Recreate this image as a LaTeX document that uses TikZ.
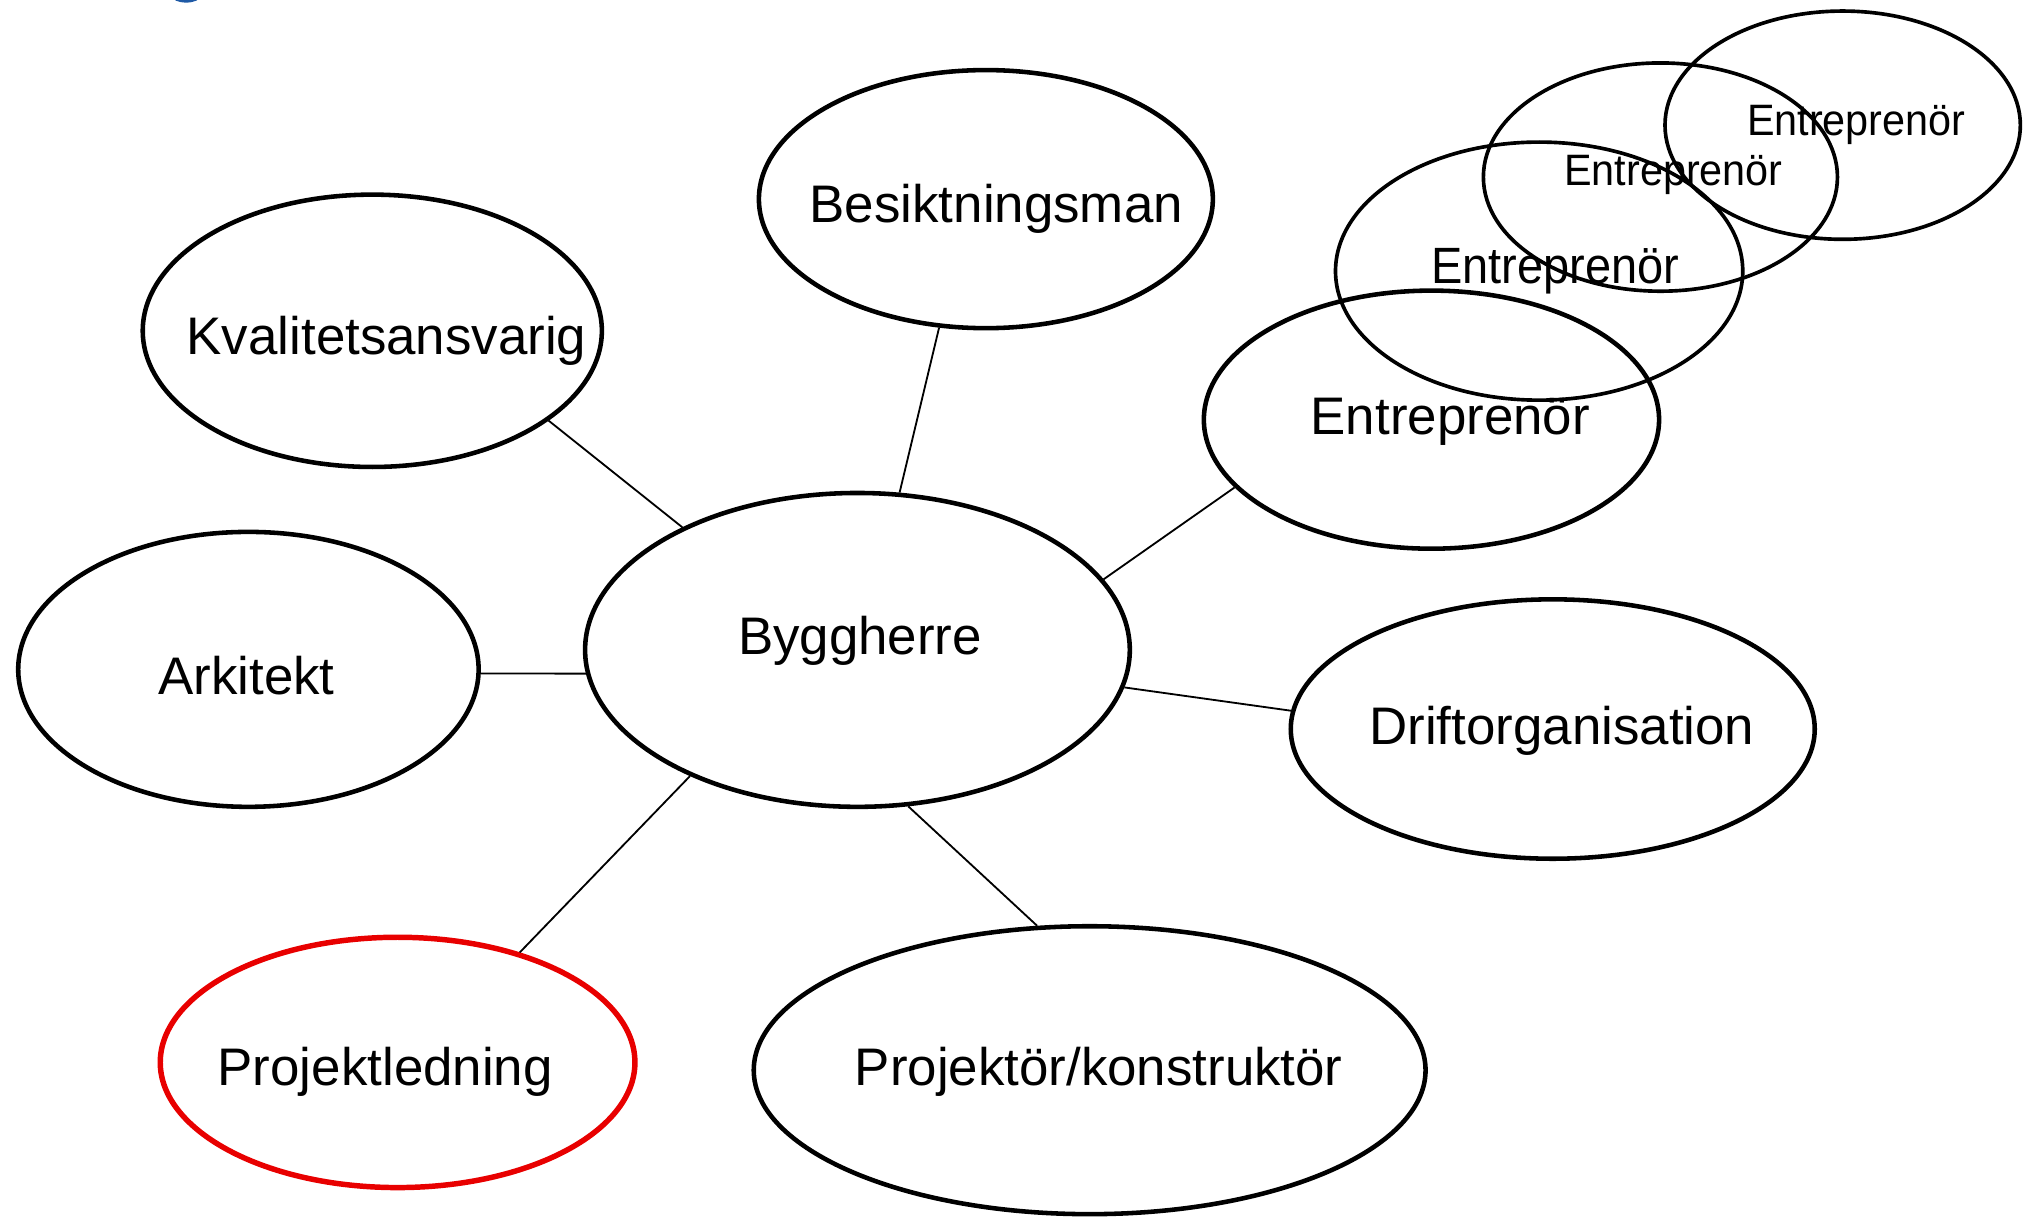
\documentclass[tikz,border=0pt]{standalone}
\usepackage{fontspec}
\setmainfont{Liberation Sans}
\usetikzlibrary{shapes.geometric}
\definecolor{ringred}{RGB}{232,0,0}
\definecolor{titleblue}{RGB}{31,90,166}
\begin{document}
\begin{tikzpicture}[x=0.02cm,y=-0.02cm,
  ell/.style={ellipse, draw, line width=2pt, inner sep=0pt},
  thin ell/.style={ellipse, draw, line width=1.6pt, inner sep=0pt},
  lab/.style={font=\fontsize{23.2}{28}\selectfont, inner sep=0pt},
  small lab/.style={font=\fontsize{19.3}{23}\selectfont, inner sep=0pt, xscale=0.94, transform shape},
  mid lab/.style={font=\fontsize{22.4}{27}\selectfont, inner sep=0pt, xscale=0.92, transform shape},
  link/.style={line width=0.8pt}]
\useasboundingbox (0,0) rectangle (1568,940);

% fragment of the heading above the picture
\fill[titleblue] (143.5,-3) ellipse [x radius=11, y radius=5];

% ellipses
\node[ell, minimum width=7.0cm, minimum height=3.98cm] (besik) at (760,153.5) {};
\node[ell, minimum width=7.08cm, minimum height=4.2cm] (kval) at (287,255) {};
\node[ell, minimum width=7.10cm, minimum height=4.24cm] (arki) at (191.5,516) {};
\node[ell, minimum width=8.40cm, minimum height=4.84cm] (bygg) at (661,501) {};
\node[ell, minimum width=7.02cm, minimum height=3.98cm] (entr) at (1103.5,323.5) {};
\node[thin ell, minimum width=6.28cm, minimum height=3.98cm] (entrC) at (1186.5,209) {};
\node[thin ell, minimum width=5.46cm, minimum height=3.52cm] (entrB) at (1280,136.5) {};
\node[thin ell, minimum width=5.48cm, minimum height=3.52cm] (entrA) at (1420.5,96.5) {};
\node[ell, minimum width=8.08cm, minimum height=4.0cm] (drift) at (1197,562) {};
\node[ell, draw=ringred, line width=2.4pt, minimum width=7.32cm, minimum height=3.86cm] (projl) at (306.5,819) {};
\node[ell, minimum width=10.36cm, minimum height=4.44cm] (projk) at (840,825) {};

% labels
\node[lab] (besikT) at (768,161) {Besiktningsman};
\node[lab] (kvalT) at (298,263) {Kvalitetsansvarig};
\node[lab] (arkiT) at (190,521) {Arkitekt};
\node[lab] (byggT) at (663,494) {Byggherre};
\node[lab] (entrT) at (1118,325) {Entreprenör};
\node[mid lab] (entrCT) at (1199,209) {Entreprenör};
\node[small lab] (entrBT) at (1290,135) {Entreprenör};
\node[small lab] (entrAT) at (1431,96) {Entreprenör};
\node[lab] (driftT) at (1204,563) {Driftorganisation};
\node[lab] (projlT) at (297,826) {Projektledning};
\node[lab] (projkT) at (847,826) {Projektör/konstruktör};

% connectors
\draw[link] (kval.-27) -- (bygg.145.5);
\draw[link] (besik.-110.5) -- (bygg.75);
\draw[link] (entr.-161) -- (bygg.16.3);
\draw[link] (arki.-1.6) -- (bygg.-175.1);
\draw[link] (drift.176.7) -- (bygg.-8.8);
\draw[link] (projl.42.5) -- (bygg.-143.1);
\draw[link] (projk.110.8) -- (bygg.-72.7);
\end{tikzpicture}
\end{document}
